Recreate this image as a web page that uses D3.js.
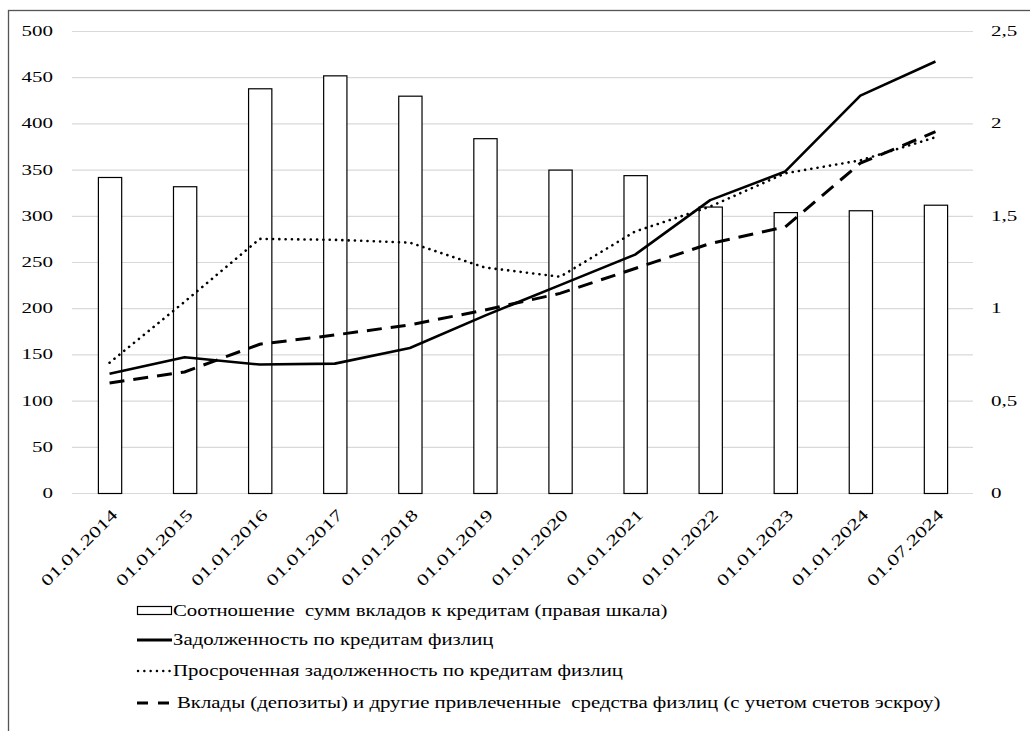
<!DOCTYPE html>
<html>
<head>
<meta charset="utf-8">
<script src="https://cdn.jsdelivr.net/npm/d3@7"></script>
<style>
  html, body { margin: 0; padding: 0; background: #fff; }
  svg { display: block; }
  svg text { font-family: "Liberation Serif", "Times New Roman", Times, "DejaVu Serif", serif; white-space: pre; }
</style>
</head>
<body>
<svg id="chart" width="1030" height="731"></svg>
<script>
const categories = ["01.01.2014","01.01.2015","01.01.2016","01.01.2017","01.01.2018","01.01.2019","01.01.2020","01.01.2021","01.01.2022","01.01.2023","01.01.2024","01.07.2024"];
const ratio = [1.71, 1.66, 2.19, 2.26, 2.15, 1.92, 1.75, 1.72, 1.55, 1.52, 1.53, 1.56];
const loans = [129, 147, 139, 140, 157, 192, 225, 258, 317, 348, 430, 467];
const overdue = [141, 207, 275, 274, 271, 244, 234, 283, 310, 346, 360, 385];
const deposits = [119, 131, 161, 171, 182, 198, 216, 243, 270, 288, 357, 391];
const leftTicks = [0, 50, 100, 150, 200, 250, 300, 350, 400, 450, 500];
const rightTicks = [0, 0.5, 1, 1.5, 2, 2.5];
const legendLabels = [
  "Соотношение  сумм вкладов к кредитам (правая шкала)",
  "Задолженность по кредитам физлиц",
  "Просроченная задолженность по кредитам физлиц",
  "Вклады (депозиты) и другие привлеченные  средства физлиц (с учетом счетов эскроу)"
];

const svg = d3.select("#chart");
const SX = 1.4;
const FS = 15;

svg.append("rect").attr("x", 8.5).attr("y", 10.5).attr("width", 1040).attr("height", 740)
  .attr("fill", "none").attr("stroke", "#555").attr("stroke-width", 1.3);

const x = d3.scaleBand().domain(categories).range([72, 973]).padding(0);
const yL = d3.scaleLinear().domain([0, 500]).range([493, 31]);
const yR = d3.scaleLinear().domain([0, 2.5]).range([493, 31]);

svg.append("g").selectAll("line").data(leftTicks).join("line")
  .attr("x1", 72).attr("x2", 973)
  .attr("y1", d => yL(d) + 0.5).attr("y2", d => yL(d) + 0.5)
  .attr("stroke", "#d9d9d9").attr("stroke-width", 1.2);

const fmtR = d => String(d).replace(".", ",");
svg.append("g").selectAll("text").data(leftTicks).join("text")
  .attr("transform", d => `translate(53,${yL(d) + 5}) scale(${SX},1)`)
  .attr("text-anchor", "end").attr("font-size", FS)
  .text(d => d);

svg.append("g").selectAll("text").data(rightTicks).join("text")
  .attr("transform", d => `translate(991,${yR(d) + 5}) scale(${SX},1)`)
  .attr("text-anchor", "start").attr("font-size", FS)
  .text(fmtR);

const bw = x.bandwidth() * 0.31;
svg.append("g").selectAll("rect").data(categories).join("rect")
  .attr("x", (d) => x(d) + x.bandwidth() / 2 - bw / 2 + 0.5)
  .attr("y", (d, i) => yR(ratio[i]) + 0.5)
  .attr("width", bw)
  .attr("height", (d, i) => yR(0) - yR(ratio[i]))
  .attr("fill", "#fff").attr("stroke", "#000").attr("stroke-width", 1.2);

const cx = d => x(d) + x.bandwidth() / 2;
function drawLine(vals, attrs) {
  const line = d3.line().x((d, i) => cx(categories[i])).y(d => yL(d));
  const p = svg.append("path").datum(vals).attr("d", line).attr("fill", "none").attr("stroke", "#000");
  Object.entries(attrs).forEach(([k, v]) => p.attr(k, v));
}
drawLine(deposits, { "stroke-width": 3, "stroke-dasharray": "15,9" });
drawLine(overdue, { "stroke-width": 2.6, "stroke-dasharray": "0.1,6.2", "stroke-linecap": "round" });
drawLine(loans, { "stroke-width": 2.6, "stroke-linejoin": "round" });

svg.append("g").selectAll("text").data(categories).join("text")
  .attr("transform", d => `translate(${cx(d) + 1},${508}) rotate(-45) scale(${SX},1)`)
  .attr("text-anchor", "end").attr("font-size", 16).attr("dy", "0.7em")
  .text(d => d);

const legY = [611, 640, 671, 703];
const lg = svg.append("g");
legendLabels.forEach((lab, i) => {
  const y = legY[i];
  if (i === 0) {
    lg.append("rect").attr("x", 137.5).attr("y", y - 4.5).attr("width", 34).attr("height", 8)
      .attr("fill", "#fff").attr("stroke", "#000").attr("stroke-width", 1.2);
  } else if (i === 1) {
    lg.append("line").attr("x1", 137).attr("x2", 172).attr("y1", y).attr("y2", y)
      .attr("stroke", "#000").attr("stroke-width", 3);
  } else if (i === 2) {
    lg.append("line").attr("x1", 138).attr("x2", 172).attr("y1", y).attr("y2", y)
      .attr("stroke", "#000").attr("stroke-width", 2.4).attr("stroke-dasharray", "0.1,6.2").attr("stroke-linecap", "round");
  } else {
    lg.append("line").attr("x1", 137).attr("x2", 172).attr("y1", y).attr("y2", y)
      .attr("stroke", "#000").attr("stroke-width", 3.2).attr("stroke-dasharray", "11,10");
  }
  lg.append("text").attr("transform", `translate(${i === 3 ? 177 : 173},${y + 5}) scale(1.3,1)`)
    .attr("font-size", 16).text(lab);
});
</script>
</body>
</html>
